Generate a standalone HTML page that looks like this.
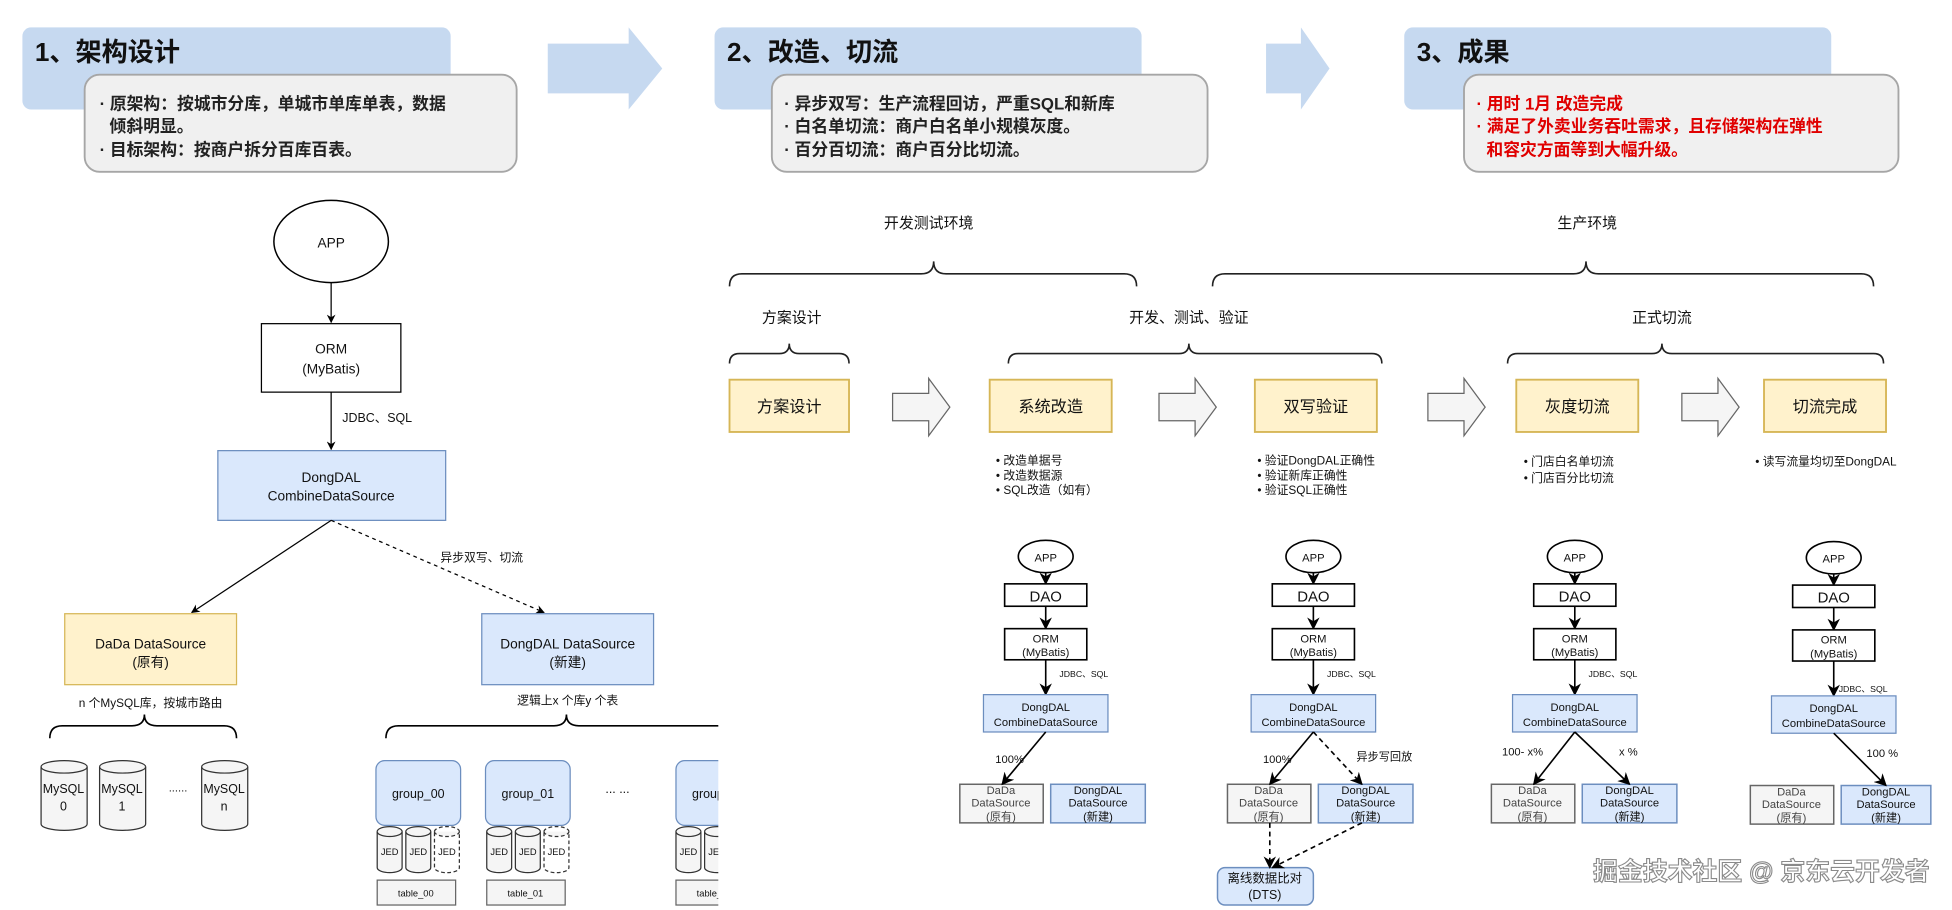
<!DOCTYPE html>
<html><head><meta charset="utf-8"><style>
html,body{margin:0;padding:0;background:#fff;width:1952px;height:910px;overflow:hidden}
svg{display:block}
text{font-family:"Liberation Sans","Noto Sans CJK SC",sans-serif}
</style></head><body>
<svg width="1952" height="910" viewBox="0 0 1568 731" preserveAspectRatio="none" xmlns="http://www.w3.org/2000/svg">
<defs>
<marker id="ah" viewBox="0 0 10 10" refX="9" refY="5" markerWidth="7" markerHeight="7" orient="auto-start-reverse" markerUnits="userSpaceOnUse"><path d="M0,0 L10,5 L0,10 L3,5 z" fill="#000"/></marker>
<marker id="ahs" viewBox="0 0 10 10" refX="9" refY="5" markerWidth="10" markerHeight="10" orient="auto" markerUnits="userSpaceOnUse"><path d="M0,0 L10,5 L0,10 L3,5 z" fill="#000"/></marker>
<clipPath id="lc"><rect x="0" y="0" width="577" height="731"/></clipPath>
</defs>
<rect width="1568" height="731" fill="#fff"/>

<!-- Headers -->
<g>
<rect x="18" y="22" width="344" height="66" rx="7" fill="#c6d9f0"/>
<text x="28" y="49" font-size="21" font-weight="bold" fill="#111">1、架构设计</text>
<rect x="68" y="60" width="347" height="78" rx="12" fill="#f0f0f0" stroke="#a6a6a6" stroke-width="1.5"/>
<text font-size="13.5" font-weight="bold" fill="#222"><tspan x="80" y="88">· 原架构：按城市分库，单城市单库单表，数据</tspan><tspan x="88" y="106">倾斜明显。</tspan><tspan x="80" y="125">· 目标架构：按商户拆分百库百表。</tspan></text>
<path d="M440,45 L505,45 L505,32 L532,65 L505,98 L505,85 L440,85 Z" fill="#c6d9f0" transform="translate(0,-10)"/>

<rect x="574" y="22" width="343" height="66" rx="7" fill="#c6d9f0"/>
<text x="584" y="49" font-size="21" font-weight="bold" fill="#111">2、改造、切流</text>
<rect x="620" y="60" width="350" height="78" rx="12" fill="#f0f0f0" stroke="#a6a6a6" stroke-width="1.5"/>
<text font-size="13.5" font-weight="bold" fill="#222"><tspan x="630" y="88">· 异步双写：生产流程回访，严重SQL和新库</tspan><tspan x="630" y="106">· 白名单切流：商户白名单小规模灰度。</tspan><tspan x="630" y="125">· 百分百切流：商户百分比切流。</tspan></text>
<path d="M1017,45 L1045,45 L1045,32 L1068,65 L1045,98 L1045,85 L1017,85 Z" fill="#c6d9f0" transform="translate(0,-10)"/>

<rect x="1128" y="22" width="343" height="66" rx="7" fill="#c6d9f0"/>
<text x="1138" y="49" font-size="21" font-weight="bold" fill="#111">3、成果</text>
<rect x="1176" y="60" width="349" height="78" rx="12" fill="#f0f0f0" stroke="#a6a6a6" stroke-width="1.5"/>
<text font-size="13.5" font-weight="bold" fill="#e00000"><tspan x="1186" y="88">· 用时 1月 改造完成</tspan><tspan x="1186" y="106">· 满足了外卖业务吞吐需求，且存储架构在弹性</tspan><tspan x="1194" y="125">和容灾方面等到大幅升级。</tspan></text>
</g>

<!-- Left diagram -->
<g clip-path="url(#lc)" stroke="#000" fill="none">
<ellipse cx="266" cy="194" rx="46" ry="33" fill="#fff" stroke-width="1.2"/>
<line x1="266" y1="227" x2="266" y2="259" marker-end="url(#ah)"/>
<rect x="210" y="260" width="112" height="55" fill="#fff"/>
<line x1="266" y1="315" x2="266" y2="361" marker-end="url(#ah)"/>
<rect x="175" y="362" width="183" height="56" fill="#dae8fc" stroke="#6c8ebf"/>
<line x1="266" y1="418" x2="154" y2="492" marker-end="url(#ah)"/>
<line x1="266" y1="418" x2="437" y2="492" stroke-dasharray="3,3" marker-end="url(#ah)"/>
<rect x="52" y="493" width="138" height="57" fill="#fff2cc" stroke="#d6b656"/>
<rect x="387" y="493" width="138" height="57" fill="#dae8fc" stroke="#6c8ebf"/>
<path d="M40,593 Q40,583 50,583 L106,583 Q116,583 116,574 Q116,583 126,583 L180,583 Q190,583 190,593" stroke-width="1.3"/>
<path d="M310,593 Q310,583 320,583 L445,583 Q455,583 455,574 Q455,583 465,583 L600,583" stroke-width="1.3"/>
<g fill="#f5f5f5" stroke="#333">
<path d="M33,616 a18.5,5 0 0,1 37,0 v46 a18.5,5 0 0,1 -37,0 z"/><path d="M33,616 a18.5,5 0 0,0 37,0"/>
<path d="M80,616 a18.5,5 0 0,1 37,0 v46 a18.5,5 0 0,1 -37,0 z"/><path d="M80,616 a18.5,5 0 0,0 37,0"/>
<path d="M162,616 a18.5,5 0 0,1 37,0 v46 a18.5,5 0 0,1 -37,0 z"/><path d="M162,616 a18.5,5 0 0,0 37,0"/>
</g>
<g fill="#dae8fc" stroke="#6c8ebf">
<rect x="302" y="611" width="68" height="52" rx="7"/>
<rect x="390" y="611" width="68" height="52" rx="7"/>
<rect x="543" y="611" width="68" height="52" rx="7"/>
</g>
<g fill="#f5f5f5" stroke="#333">
<path d="M303,668 a10,4 0 0,1 20,0 v29 a10,4 0 0,1 -20,0 z"/><path d="M303,668 a10,4 0 0,0 20,0"/>
<path d="M326,668 a10,4 0 0,1 20,0 v29 a10,4 0 0,1 -20,0 z"/><path d="M326,668 a10,4 0 0,0 20,0"/>
<path d="M349,668 a10,4 0 0,1 20,0 v29 a10,4 0 0,1 -20,0 z" stroke-dasharray="3,2" fill="#fff"/><path d="M349,668 a10,4 0 0,0 20,0" stroke-dasharray="3,2"/>
<path d="M391,668 a10,4 0 0,1 20,0 v29 a10,4 0 0,1 -20,0 z"/><path d="M391,668 a10,4 0 0,0 20,0"/>
<path d="M414,668 a10,4 0 0,1 20,0 v29 a10,4 0 0,1 -20,0 z"/><path d="M414,668 a10,4 0 0,0 20,0"/>
<path d="M437,668 a10,4 0 0,1 20,0 v29 a10,4 0 0,1 -20,0 z" stroke-dasharray="3,2" fill="#fff"/><path d="M437,668 a10,4 0 0,0 20,0" stroke-dasharray="3,2"/>
<path d="M543,668 a10,4 0 0,1 20,0 v29 a10,4 0 0,1 -20,0 z"/><path d="M543,668 a10,4 0 0,0 20,0"/>
<path d="M566,668 a10,4 0 0,1 20,0 v29 a10,4 0 0,1 -20,0 z"/><path d="M566,668 a10,4 0 0,0 20,0"/>
</g>
<g fill="#f5f5f5" stroke="#666">
<rect x="303" y="707" width="63" height="20"/>
<rect x="391" y="707" width="63" height="20"/>
<rect x="543" y="707" width="63" height="20"/>
</g>
</g>
<g clip-path="url(#lc)" fill="#111" text-anchor="middle" font-size="11">
<text x="266" y="199">APP</text>
<text x="266" y="284">ORM</text><text x="266" y="300">(MyBatis)</text>
<text x="303" y="339" font-size="10">JDBC、SQL</text>
<text x="266" y="387">DongDAL</text><text x="266" y="402">CombineDataSource</text>
<text x="387" y="451" font-size="9.5">异步双写、切流</text>
<text x="121" y="521">DaDa DataSource</text><text x="121" y="536">(原有)</text>
<text x="456" y="521">DongDAL DataSource</text><text x="456" y="536">(新建)</text>
<text x="121" y="568" font-size="9.5">n 个MySQL库，按城市路由</text>
<text x="456" y="566" font-size="9.5">逻辑上x 个库y 个表</text>
<text x="51" y="637" font-size="10">MySQL</text><text x="51" y="651" font-size="10">0</text>
<text x="98" y="637" font-size="10">MySQL</text><text x="98" y="651" font-size="10">1</text>
<text x="180" y="637" font-size="10">MySQL</text><text x="180" y="651" font-size="10">n</text>
<text x="143" y="636" font-size="9">......</text>
<text x="336" y="641" font-size="10">group_00</text>
<text x="424" y="641" font-size="10">group_01</text>
<text x="577" y="641" font-size="10">group_02</text>
<text x="496" y="637" font-size="10">... ...</text>
<g font-size="7.5"><text x="313" y="687">JED</text><text x="336" y="687">JED</text><text x="359" y="687">JED</text>
<text x="401" y="687">JED</text><text x="424" y="687">JED</text><text x="447" y="687">JED</text>
<text x="553" y="687">JED</text><text x="576" y="687">JED</text></g>
<g font-size="7.5"><text x="334" y="720">table_00</text><text x="422" y="720">table_01</text><text x="574" y="720">table_02</text></g>
</g>

<!-- Right timeline -->
<g stroke="#222" fill="none" stroke-width="1.3">
<path d="M586,230 Q586,220 596,220 L740,220 Q750,220 750,210 Q750,220 760,220 L903,220 Q913,220 913,230"/>
<path d="M974,230 Q974,220 984,220 L1264,220 Q1274,220 1274,210 Q1274,220 1284,220 L1495,220 Q1505,220 1505,230"/>
<path d="M586,292 Q586,284 594,284 L626,284 Q634,284 634,276 Q634,284 642,284 L674,284 Q682,284 682,292"/>
<path d="M810,292 Q810,284 818,284 L947,284 Q955,284 955,276 Q955,284 963,284 L1102,284 Q1110,284 1110,292"/>
<path d="M1211,292 Q1211,284 1219,284 L1327,284 Q1335,284 1335,276 Q1335,284 1343,284 L1505,284 Q1513,284 1513,292"/>
</g>
<g fill="#fff2cc" stroke="#d6b656" stroke-width="1.5">
<rect x="586" y="305" width="96" height="42"/>
<rect x="795" y="305" width="98" height="42"/>
<rect x="1008" y="305" width="98" height="42"/>
<rect x="1218" y="305" width="98" height="42"/>
<rect x="1417" y="305" width="98" height="42"/>
</g>
<g fill="#f5f5f5" stroke="#666">
<path d="M717,316 L746,316 L746,304 L763,327 L746,350 L746,338 L717,338 Z"/>
<path d="M931,316 L960,316 L960,304 L977,327 L960,350 L960,338 L931,338 Z"/>
<path d="M1147,316 L1176,316 L1176,304 L1193,327 L1176,350 L1176,338 L1147,338 Z"/>
<path d="M1351,316 L1380,316 L1380,304 L1397,327 L1380,350 L1380,338 L1351,338 Z"/>
</g>
<g fill="#111" font-size="12" text-anchor="middle">
<text x="746" y="183">开发测试环境</text>
<text x="1275" y="183">生产环境</text>
<text x="636" y="259">方案设计</text>
<text x="955" y="259">开发、测试、验证</text>
<text x="1335" y="259">正式切流</text>
<g font-size="13"><text x="634" y="331">方案设计</text><text x="844" y="331">系统改造</text><text x="1057" y="331">双写验证</text><text x="1267" y="331">灰度切流</text><text x="1466" y="331">切流完成</text></g>
</g>
<g fill="#111" font-size="9.5">
<text x="800" y="373">•  改造单据号</text><text x="800" y="385">•  改造数据源</text><text x="800" y="397">•  SQL改造（如有）</text>
<text x="1010" y="373">•  验证DongDAL正确性</text><text x="1010" y="385">•  验证新库正确性</text><text x="1010" y="397">•  验证SQL正确性</text>
<text x="1224" y="374">•  门店白名单切流</text><text x="1224" y="387">•  门店百分比切流</text>
<text x="1410" y="374">•  读写流量均切至DongDAL</text>
</g>

<!-- small stacks -->
<g transform="translate(840,447)">
<g fill="none" stroke="#000" stroke-width="1.3">
<ellipse cx="0" cy="0" rx="22" ry="13" fill="#fff"/>
<line x1="0" y1="13" x2="0" y2="22" marker-end="url(#ahs)"/>
<rect x="-33" y="22" width="66" height="18" fill="#fff"/>
<line x1="0" y1="40" x2="0" y2="58" marker-end="url(#ahs)"/>
<rect x="-33" y="58" width="66" height="25" fill="#fff"/>
<line x1="0" y1="83" x2="0" y2="111" marker-end="url(#ahs)"/>
<rect x="-50" y="111" width="100" height="30" fill="#dae8fc" stroke="#6c8ebf" stroke-width="1"/>
</g>
<g fill="#111" text-anchor="middle" font-size="9"><text x="0" y="4">APP</text><text x="0" y="36" font-size="12">DAO</text><text x="0" y="69">ORM</text><text x="0" y="80">(MyBatis)</text><text x="11" y="97" font-size="7" text-anchor="start">JDBC、SQL</text><text x="0" y="124">DongDAL</text><text x="0" y="136">CombineDataSource</text></g>
</g>
<g transform="translate(1055,447)">
<g fill="none" stroke="#000" stroke-width="1.3">
<ellipse cx="0" cy="0" rx="22" ry="13" fill="#fff"/>
<line x1="0" y1="13" x2="0" y2="22" marker-end="url(#ahs)"/>
<rect x="-33" y="22" width="66" height="18" fill="#fff"/>
<line x1="0" y1="40" x2="0" y2="58" marker-end="url(#ahs)"/>
<rect x="-33" y="58" width="66" height="25" fill="#fff"/>
<line x1="0" y1="83" x2="0" y2="111" marker-end="url(#ahs)"/>
<rect x="-50" y="111" width="100" height="30" fill="#dae8fc" stroke="#6c8ebf" stroke-width="1"/>
</g>
<g fill="#111" text-anchor="middle" font-size="9"><text x="0" y="4">APP</text><text x="0" y="36" font-size="12">DAO</text><text x="0" y="69">ORM</text><text x="0" y="80">(MyBatis)</text><text x="11" y="97" font-size="7" text-anchor="start">JDBC、SQL</text><text x="0" y="124">DongDAL</text><text x="0" y="136">CombineDataSource</text></g>
</g>
<g transform="translate(1265,447)">
<g fill="none" stroke="#000" stroke-width="1.3">
<ellipse cx="0" cy="0" rx="22" ry="13" fill="#fff"/>
<line x1="0" y1="13" x2="0" y2="22" marker-end="url(#ahs)"/>
<rect x="-33" y="22" width="66" height="18" fill="#fff"/>
<line x1="0" y1="40" x2="0" y2="58" marker-end="url(#ahs)"/>
<rect x="-33" y="58" width="66" height="25" fill="#fff"/>
<line x1="0" y1="83" x2="0" y2="111" marker-end="url(#ahs)"/>
<rect x="-50" y="111" width="100" height="30" fill="#dae8fc" stroke="#6c8ebf" stroke-width="1"/>
</g>
<g fill="#111" text-anchor="middle" font-size="9"><text x="0" y="4">APP</text><text x="0" y="36" font-size="12">DAO</text><text x="0" y="69">ORM</text><text x="0" y="80">(MyBatis)</text><text x="11" y="97" font-size="7" text-anchor="start">JDBC、SQL</text><text x="0" y="124">DongDAL</text><text x="0" y="136">CombineDataSource</text></g>
</g>
<g transform="translate(1473,448)">
<g fill="none" stroke="#000" stroke-width="1.3">
<ellipse cx="0" cy="0" rx="22" ry="13" fill="#fff"/>
<line x1="0" y1="13" x2="0" y2="22" marker-end="url(#ahs)"/>
<rect x="-33" y="22" width="66" height="18" fill="#fff"/>
<line x1="0" y1="40" x2="0" y2="58" marker-end="url(#ahs)"/>
<rect x="-33" y="58" width="66" height="25" fill="#fff"/>
<line x1="0" y1="83" x2="0" y2="111" marker-end="url(#ahs)"/>
<rect x="-50" y="111" width="100" height="30" fill="#dae8fc" stroke="#6c8ebf" stroke-width="1"/>
</g>
<g fill="#111" text-anchor="middle" font-size="9"><text x="0" y="4">APP</text><text x="0" y="36" font-size="12">DAO</text><text x="0" y="69">ORM</text><text x="0" y="80">(MyBatis)</text><text x="4" y="108" font-size="7" text-anchor="start">JDBC、SQL</text><text x="0" y="124">DongDAL</text><text x="0" y="136">CombineDataSource</text></g>
</g>

<!-- bottom boxes + edges -->
<g stroke-width="1.2">
<rect x="771" y="630" width="67" height="31" fill="#f5f5f5" stroke="#666"/>
<rect x="844" y="630" width="76" height="31" fill="#dae8fc" stroke="#6c8ebf"/>
<rect x="986" y="630" width="67" height="31" fill="#f5f5f5" stroke="#666"/>
<rect x="1059" y="630" width="76" height="31" fill="#dae8fc" stroke="#6c8ebf"/>
<rect x="1198" y="630" width="67" height="31" fill="#f5f5f5" stroke="#666"/>
<rect x="1271" y="630" width="76" height="31" fill="#dae8fc" stroke="#6c8ebf"/>
<rect x="1406" y="631" width="67" height="31" fill="#f5f5f5" stroke="#666"/>
<rect x="1479" y="631" width="72" height="31" fill="#dae8fc" stroke="#6c8ebf"/>
<rect x="978" y="697" width="77" height="30" rx="6" fill="#dae8fc" stroke="#6c8ebf"/>
</g>
<g stroke="#000" stroke-width="1.3" fill="none">
<line x1="840" y1="588" x2="805" y2="630" marker-end="url(#ahs)"/>
<line x1="1055" y1="588" x2="1020" y2="630" marker-end="url(#ahs)"/>
<line x1="1055" y1="588" x2="1094" y2="630" stroke-dasharray="4,3" marker-end="url(#ahs)"/>
<line x1="1020" y1="661" x2="1020" y2="697" stroke-dasharray="4,3" marker-end="url(#ahs)"/>
<line x1="1094" y1="661" x2="1022" y2="697" stroke-dasharray="4,3" marker-end="url(#ahs)"/>
<line x1="1265" y1="588" x2="1232" y2="630" marker-end="url(#ahs)"/>
<line x1="1265" y1="588" x2="1309" y2="630" marker-end="url(#ahs)"/>
<line x1="1473" y1="589" x2="1515" y2="631" marker-end="url(#ahs)"/>
</g>
<g font-size="9" text-anchor="middle" fill="#111">
<g fill="#444"><text x="804" y="638">DaDa</text><text x="804" y="648">DataSource</text><text x="804" y="659">(原有)</text>
<text x="1019" y="638">DaDa</text><text x="1019" y="648">DataSource</text><text x="1019" y="659">(原有)</text>
<text x="1231" y="638">DaDa</text><text x="1231" y="648">DataSource</text><text x="1231" y="659">(原有)</text>
<text x="1439" y="639">DaDa</text><text x="1439" y="649">DataSource</text><text x="1439" y="660">(原有)</text></g>
<text x="882" y="638">DongDAL</text><text x="882" y="648">DataSource</text><text x="882" y="659">(新建)</text>
<text x="1097" y="638">DongDAL</text><text x="1097" y="648">DataSource</text><text x="1097" y="659">(新建)</text>
<text x="1309" y="638">DongDAL</text><text x="1309" y="648">DataSource</text><text x="1309" y="659">(新建)</text>
<text x="1515" y="639">DongDAL</text><text x="1515" y="649">DataSource</text><text x="1515" y="660">(新建)</text>
<text x="1016" y="709" font-size="10">离线数据比对</text><text x="1016" y="722" font-size="10">(DTS)</text>
<text x="811" y="613">100%</text><text x="1026" y="613">100%</text>
<text x="1112" y="611">异步写回放</text>
<text x="1223" y="607">100- x%</text><text x="1308" y="607">x %</text>
<text x="1512" y="608">100  %</text>
</g>

<text x="1550" y="707" text-anchor="end" font-size="20" fill="#fff" stroke="#8a8a8a" stroke-width="0.9" font-weight="bold">掘金技术社区 @ 京东云开发者</text>
</svg>
</body></html>
